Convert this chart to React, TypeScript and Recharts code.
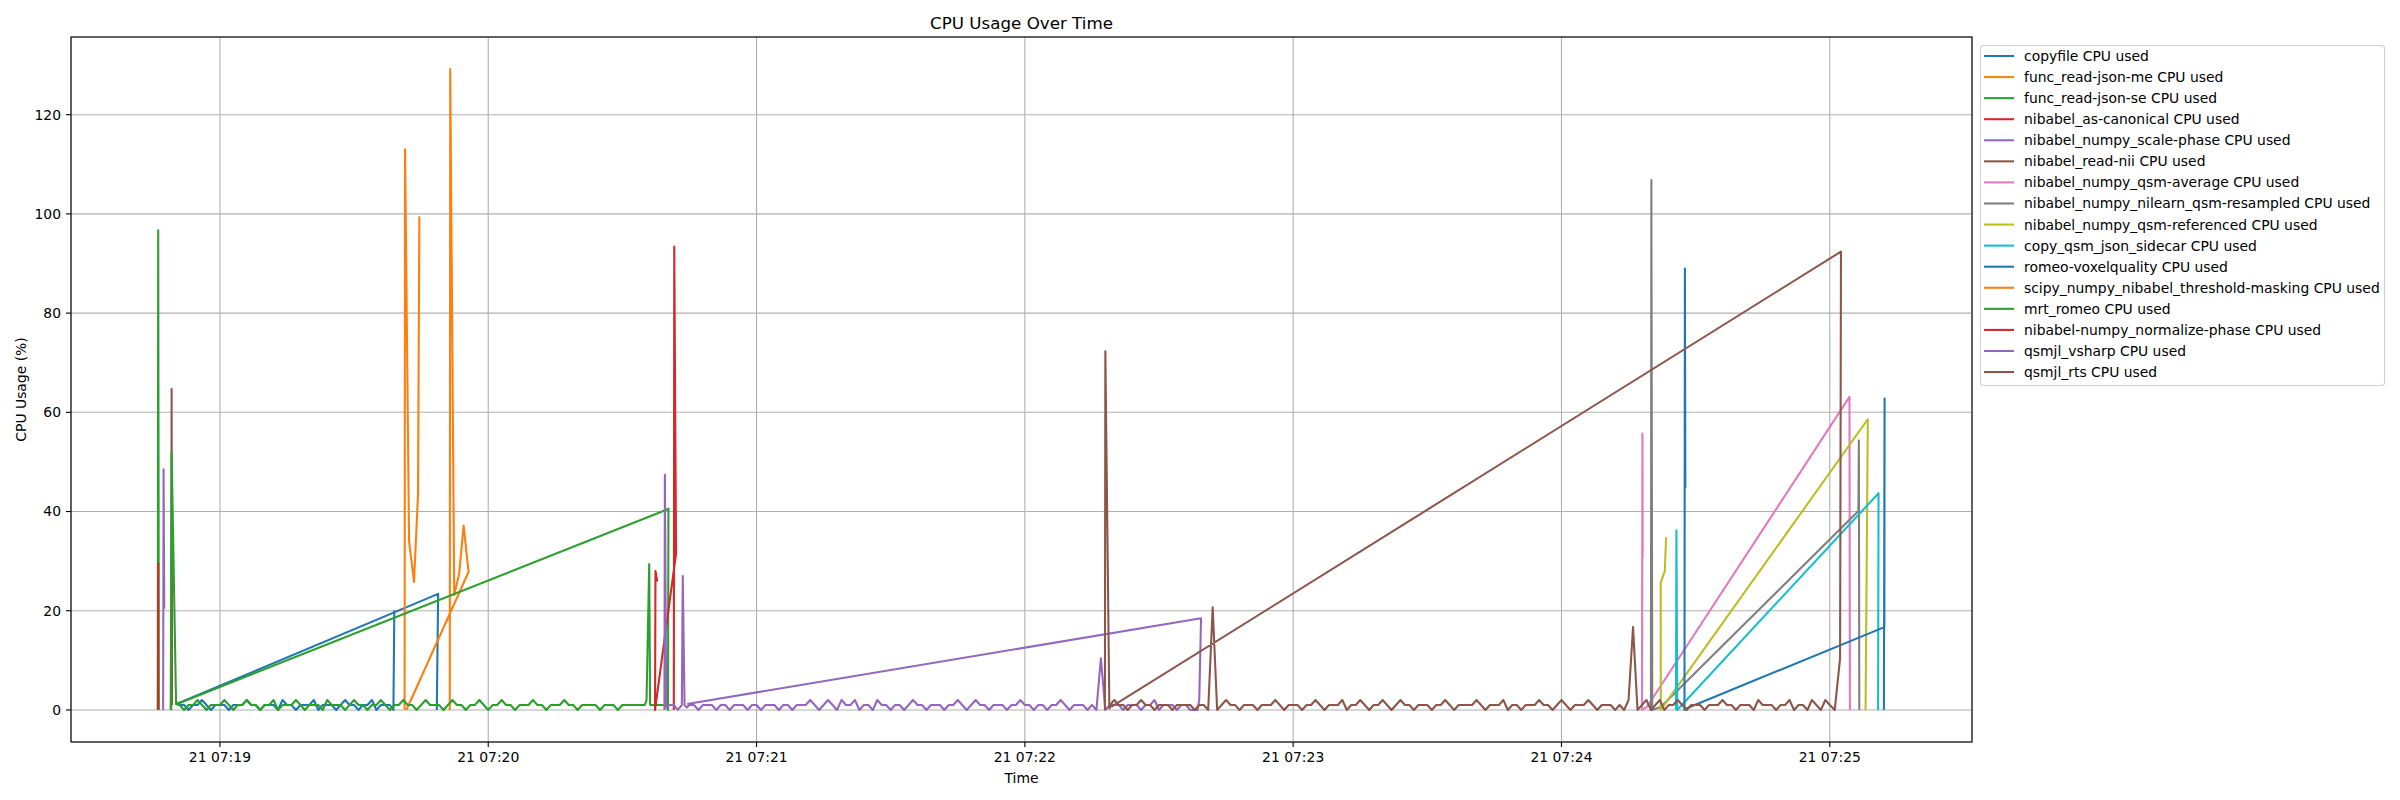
import { LineChart, Line, XAxis, YAxis, CartesianGrid } from "recharts"

type Pt = [number, number]
type Run = { start: number; step: number; values: number[] }
type Part = Pt[] | Run

// x values are seconds after 21 07:18:00
const timeTicks = [60, 120, 180, 240, 300, 360, 420]
const timeLabels = ["21 07:19", "21 07:20", "21 07:21", "21 07:22", "21 07:23", "21 07:24", "21 07:25"]
const cpuTicks = [0, 20, 40, 60, 80, 100, 120]

// sampled CPU % (one sample per second)
const copyfileNoise = [
  1, 1, 0, 1, 1, 2, 1, 0, 1, 1, 1, 0, 1, 1, 1, 2, 1, 1, 0, 1, 1, 1, 0, 2, 1, 1, 0, 1, 1, 1,
  2, 0, 1, 1, 1, 0, 1, 2, 1, 1, 0, 1, 1, 2, 0, 1, 1, 1,
]
const romeoNoise = [
  1, 0, 1, 1, 2, 1, 0, 1, 1, 1, 2, 1, 0, 1, 1, 2, 1, 1, 0, 1, 1, 2, 0, 1, 1, 1, 2, 1, 0, 1,
  1, 1, 0, 2, 1, 1, 1, 0, 1, 2, 1, 1, 0, 1, 1, 2, 1, 0, 1, 1, 2, 1, 1, 0, 1, 2, 1, 1, 1, 0,
  1, 2, 1, 1, 0, 1, 1, 2, 1, 0, 1, 1, 2, 1, 1, 0, 1, 1, 1, 2, 1, 1, 0, 1, 1, 1, 2, 1, 1, 0,
  1, 1, 1, 1, 0, 1, 1, 1, 0, 1, 1, 1, 1, 1, 1,
]
const vsharpNoise = [
  1, 1, 0, 1, 1, 1, 0, 1, 1, 0, 1, 1, 1, 0, 1, 1, 0, 1, 1, 1, 0, 1, 1, 0, 1, 1, 1, 2, 1, 0,
  1, 2, 1, 0, 2, 1, 1, 2, 0, 1, 1, 0, 2, 1, 1, 0, 1, 1, 0, 1, 2, 1, 1, 0, 1, 1, 1, 0, 1, 1,
  2, 1, 0, 1, 2, 1, 1, 0, 1, 1, 1, 0, 1, 1, 2, 1, 1, 0, 1, 1, 0, 1, 1, 2, 1, 0, 1, 1, 1, 0,
  1, 0, 10.4, 0, 1, 1, 1, 0, 1, 1, 1, 0, 1, 1, 2, 0, 1, 1, 1, 0, 1, 1, 0,
]
const rtsNoise = [
  2, 1, 1, 0, 1, 1, 2, 1, 1, 0, 1, 1, 1, 0, 1, 1, 1, 1, 0, 1, 1, 0, 20.7, 0, 1, 2, 1, 1, 0, 1,
  1, 1, 0, 1, 1, 1, 2, 1, 0, 1, 1, 1, 0, 1, 1, 2, 1, 0, 1, 1, 1, 2, 0, 1, 1, 2, 1, 0, 1, 1,
  2, 1, 0, 1, 2, 1, 1, 0, 1, 1, 1, 0, 1, 1, 2, 1, 0, 1, 1, 1, 1, 2, 1, 0, 1, 1, 1, 2, 0, 1,
  1, 0, 1, 1, 1, 2, 1, 1, 0, 1, 2, 1, 0, 1, 1, 1, 2, 1, 0, 1, 1, 1, 0, 1, 0, 2, 16.7, 0, 1, 2,
  0, 1, 2, 0, 1, 1, 2, 1, 0, 1, 1, 1, 0, 1, 1, 1, 2, 1, 1, 0, 1, 1, 1, 0, 2, 1, 1, 1, 0, 1,
  1, 2, 0, 1, 1, 0, 2, 1, 0, 2, 1,
]

const copyfile: Part[] = [
  [[108.5, 0], [108.8, 23.4], [50.3, 1.2]],
  { start: 51, step: 1, values: copyfileNoise },
  [[98.8, 0], [99.0, 20.1]],
]
const readJsonMe: Part[] = [
  [[101.3, 0], [101.4, 113.0], [102.3, 34.0], [103.4, 25.8], [104.3, 43.4], [104.6, 99.5]],
]
const readJsonSe: Part[] = [[[46.1, 0], [46.2, 96.7], [46.35, 0]]]
const asCanonical: Part[] = [[[46.15, 0], [46.2, 29.7]]]
const scalePhase: Part[] = [[[47.3, 0], [47.4, 48.5], [47.55, 20.4]]]
const readNii: Part[] = [[[49.1, 0], [49.2, 64.7], [49.3, 1]]]
const qsmAverage: Part[] = [
  [[378.15, 30.7], [378.1, 55.7], [378.0, 0], [379.1, 0.6], [424.4, 63.1], [424.5, 0]],
]
const qsmResampled: Part[] = [
  [[380.0, 0], [380.1, 106.8], [380.3, 0], [382.2, 0.6], [426.4, 40.1], [426.5, 54.3], [426.6, 0]],
]
const qsmReferenced: Part[] = [
  [[428.0, 0], [428.5, 58.6], [382.2, 0], [382.2, 25.7], [383.1, 28.0], [383.4, 34.8]],
]
const jsonSidecar: Part[] = [
  [[385.6, 0], [385.7, 36.2], [385.9, 0], [386.2, 0.3], [430.9, 43.7], [430.8, 0]],
]
const voxelQuality: Part[] = [
  [[387.7, 44.7], [387.6, 89.0], [387.5, 0], [387.9, 0.3], [432.2, 16.7], [432.25, 62.8], [432.1, 0]],
]
const thresholdMasking: Part[] = [
  [[111.4, 0], [111.5, 129.2], [112.4, 23.2], [113.5, 27.5], [114.5, 37.2], [115.6, 27.8], [101.7, 0]],
]
const mrtRomeo: Part[] = [
  [[49.0, 0], [49.2, 52.0], [50.2, 1.2]],
  { start: 51, step: 1, values: romeoNoise },
  [[155.4, 2], [156.0, 29.4], [156.2, 1], [157, 1], [158, 1], [159, 1], [159.8, 1], [160.2, 0], [160.3, 40.6], [160.0, 40.4], [50.4, 1.2]],
]
const normalizePhase: Part[] = [
  [[161.5, 0], [161.6, 93.4], [162.0, 31.5], [157.3, 0], [157.4, 28.0], [157.8, 25.9]],
]
const vsharp: Part[] = [
  [[159.4, 0], [159.5, 47.4], [159.8, 0.5], [160.6, 1], [161.5, 1], [162.4, 0], [163.3, 1], [163.5, 27.0], [163.9, 1], [164.4, 0.5]],
  { start: 165, step: 1, values: vsharpNoise },
  [[278.6, 0], [279.0, 2], [279.4, 18.5], [164.5, 1.2]],
]
const rts: Part[] = [
  [[257.9, 0], [258.0, 72.3], [258.9, 0.3], [259.5, 1.5]],
  { start: 260, step: 1, values: rtsNoise },
  [[421.1, 0], [422.3, 10.4], [422.5, 92.4], [259.3, 0.6]],
]

const series = [
  { name: "copyfile CPU used", color: "#1f77b4", parts: copyfile },
  { name: "func_read-json-me CPU used", color: "#ff7f0e", parts: readJsonMe },
  { name: "func_read-json-se CPU used", color: "#2ca02c", parts: readJsonSe },
  { name: "nibabel_as-canonical CPU used", color: "#d62728", parts: asCanonical },
  { name: "nibabel_numpy_scale-phase CPU used", color: "#9467bd", parts: scalePhase },
  { name: "nibabel_read-nii CPU used", color: "#8c564b", parts: readNii },
  { name: "nibabel_numpy_qsm-average CPU used", color: "#e377c2", parts: qsmAverage },
  { name: "nibabel_numpy_nilearn_qsm-resampled CPU used", color: "#7f7f7f", parts: qsmResampled },
  { name: "nibabel_numpy_qsm-referenced CPU used", color: "#bcbd22", parts: qsmReferenced },
  { name: "copy_qsm_json_sidecar CPU used", color: "#17becf", parts: jsonSidecar },
  { name: "romeo-voxelquality CPU used", color: "#1f77b4", parts: voxelQuality },
  { name: "scipy_numpy_nibabel_threshold-masking CPU used", color: "#ff7f0e", parts: thresholdMasking },
  { name: "mrt_romeo CPU used", color: "#2ca02c", parts: mrtRomeo },
  { name: "nibabel-numpy_normalize-phase CPU used", color: "#d62728", parts: normalizePhase },
  { name: "qsmjl_vsharp CPU used", color: "#9467bd", parts: vsharp },
  { name: "qsmjl_rts CPU used", color: "#8c564b", parts: rts },
]

function toRows(parts: Part[]) {
  return parts.flatMap((p) =>
    Array.isArray(p)
      ? p.map(([t, v]) => ({ t, v }))
      : p.values.map((v, i) => ({ t: p.start + i * p.step, v }))
  )
}

const FONT = "'DejaVu Sans', sans-serif"

export default function App() {
  return (
    <div style={{ position: "absolute", left: 0, top: 0, width: 2400, height: 800, background: "#fff", fontFamily: FONT }}>
      <LineChart width={2400} height={800} margin={{ top: 37, right: 428, left: 11, bottom: 18 }}>
        <CartesianGrid stroke="#b0b0b0" strokeWidth={1.1} />
        <XAxis
          dataKey="t"
          type="number"
          domain={[26.7, 451.8]}
          allowDataOverflow
          ticks={timeTicks}
          interval={0}
          height={40}
          axisLine={false}
          tickSize={5}
          tickMargin={5}
          tickLine={{ stroke: "#000", strokeWidth: 1.1 }}
          tickFormatter={(t: number) => timeLabels[timeTicks.indexOf(t)]}
          tick={{ fill: "#000", fontSize: 13.9, fontFamily: FONT }}
        />
        <YAxis
          type="number"
          domain={[-6.46, 135.66]}
          allowDataOverflow
          ticks={cpuTicks}
          interval={0}
          width={60}
          axisLine={false}
          tickSize={5}
          tickMargin={5}
          tickLine={{ stroke: "#000", strokeWidth: 1.1 }}
          tick={{ fill: "#000", fontSize: 13.9, fontFamily: FONT }}
        />
        {series.map((s) => (
          <Line
            key={s.name}
            data={toRows(s.parts)}
            dataKey="v"
            name={s.name}
            type="linear"
            stroke={s.color}
            strokeWidth={2.08}
            strokeLinejoin="round"
            dot={false}
            activeDot={false}
            isAnimationActive={false}
          />
        ))}
      </LineChart>
      <svg width={2400} height={800} style={{ position: "absolute", left: 0, top: 0, pointerEvents: "none" }}>
        <rect x={71} y={37} width={1901} height={705} fill="none" stroke="#000" strokeWidth={1.1} />
        <text x={1021.5} y={28.7} textAnchor="middle" fontSize={16.7} fontFamily={FONT}>CPU Usage Over Time</text>
        <text x={1021.5} y={783} textAnchor="middle" fontSize={13.9} fontFamily={FONT}>Time</text>
        <text x={25.6} y={389.5} textAnchor="middle" fontSize={13.9} fontFamily={FONT} transform="rotate(-90 25.6 389.5)">CPU Usage (%)</text>
        <rect x={1980.5} y={45.5} width={404} height={340} rx={3} fill="#fff" fillOpacity={0.8} stroke="#d0d0d0" strokeWidth={1.1} />
        {series.map((s, i) => (
          <g key={s.name}>
            <line x1={1984} x2={2014} y1={56 + i * 21.07} y2={56 + i * 21.07} stroke={s.color} strokeWidth={2.08} />
            <text x={2024} y={61 + i * 21.07} fontSize={13.9} fontFamily={FONT}>{s.name}</text>
          </g>
        ))}
      </svg>
    </div>
  )
}
